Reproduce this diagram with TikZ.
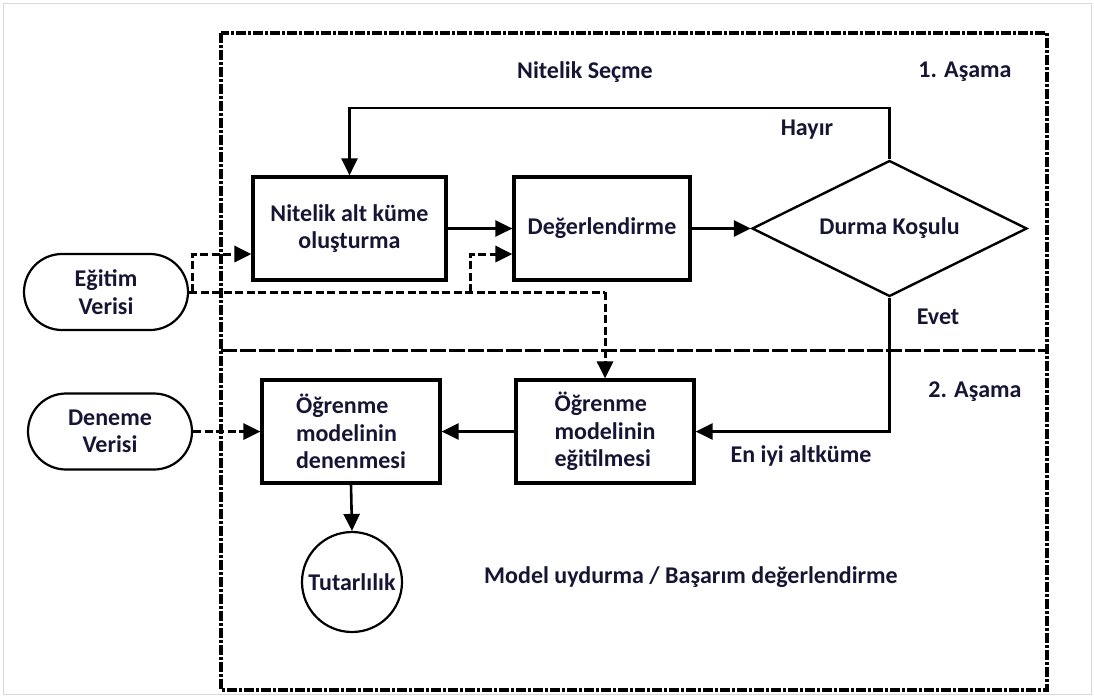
\documentclass[tikz,border=0pt]{standalone}
\usepackage{fontspec}
\setmainfont{Carlito}
\usetikzlibrary{arrows.meta,shapes.geometric,shapes.misc}
\definecolor{ink}{RGB}{22,22,52}
\tikzset{
  x=1pt, y=-1pt,
  lbl/.style={font=\fontsize{24}{27.5}\selectfont\bfseries, text=ink, inner sep=0pt},
  stepbox/.style={draw, line width=3.2pt, minimum width=#1, minimum height=103pt, inner sep=0pt, lbl},
  stepbox/.default=190pt,
  term/.style={draw, line width=2.2pt, rounded rectangle, minimum width=164pt, minimum height=76pt, inner sep=0pt, lbl, align=center},
  flow/.style={line width=2.6pt, -{Triangle[length=17pt,width=16pt]}},
  dflow/.style={line width=3pt, dash pattern=on 8pt off 3.5pt, -{Triangle[length=17pt,width=16pt]}},
  dline/.style={line width=3pt, dash pattern=on 8pt off 3.5pt},
  phase/.style={line width=3.2pt, dash pattern=on 10pt off 2pt on 3pt off 2pt},
  divider/.style={line width=3pt, dash pattern=on 16pt off 3pt},
}
\begin{document}
\begin{tikzpicture}
\useasboundingbox (0,0) rectangle (1094,697);
\draw[gray!30, line width=1pt] (3,3) rectangle (1091,694);

% phase frame and divider
\draw[phase] (221,33) rectangle (1047,690);
\draw[divider] (221,350) -- (1047,350);

\node[lbl] (t1) at (585,72) {Nitelik Seçme};
\node[lbl] (p1) at (965,72) {1. Aşama};
\node[lbl] (p2) at (975,392) {2. Aşama};
\node[lbl] (t2) at (691,577) {Model uydurma / Başarım değerlendirme};

% phase 1
\node[stepbox=193pt, align=center] (subset) at (349.5,228.5) {Nitelik alt küme\\oluşturma};
\node[stepbox=176pt] (eval) at (602,228.5) {Değerlendirme};
\node[draw, line width=2.4pt, diamond, aspect=2, minimum width=275pt, minimum height=136pt, inner sep=0pt, lbl] (stop) at (889.5,228.5) {Durma Koşulu};

% phase 2
\node[stepbox=178pt, align=left] (train) at (605,431.5) {Öğrenme\\modelinin\\eğitilmesi};
\node[stepbox=178pt, align=left] (test) at (351,431.5) {Öğrenme\\modelinin\\denenmesi};
\node[draw, circle, line width=2.2pt, minimum size=100pt, inner sep=0pt, lbl] (acc) at (352,582) {Tutarlılık};

% data sources
\node[term] (trdata) at (106,292) {Eğitim\\Verisi};
\node[term] (tsdata) at (110,431.5) {Deneme\\Verisi};

% solid flow
\draw[flow] (subset.east) -- (eval.west);
\draw[flow] (eval.east) -- (stop.west);
\draw[flow] (stop.north) -- (889.5,108) -| (subset.north);
\draw[flow] (stop.south) |- (train.east);
\draw[flow] (train.west) -- (test.east);
\draw[flow] (test.south) -- (acc.north);

\node[lbl] (no) at (807,130) {Hayır};
\node[lbl] (yes) at (938,317) {Evet};
\node[lbl] (best) at (801,456) {En iyi altküme};

% dashed data flow
\coordinate (j1) at (192,292);
\coordinate (j2) at (470,292);
\coordinate (j3) at (605,292);
\draw[dline] (trdata.east) -- (j3);
\draw[dflow] (j1) -- (192,254) -- (subset.west |- 0,254);
\draw[dflow] (j2) -- (470,254) -- (eval.west |- 0,254);
\draw[dflow] (j3) -- (train.north);
\draw[dflow] (tsdata.east) -- (test.west);
\end{tikzpicture}
\end{document}
